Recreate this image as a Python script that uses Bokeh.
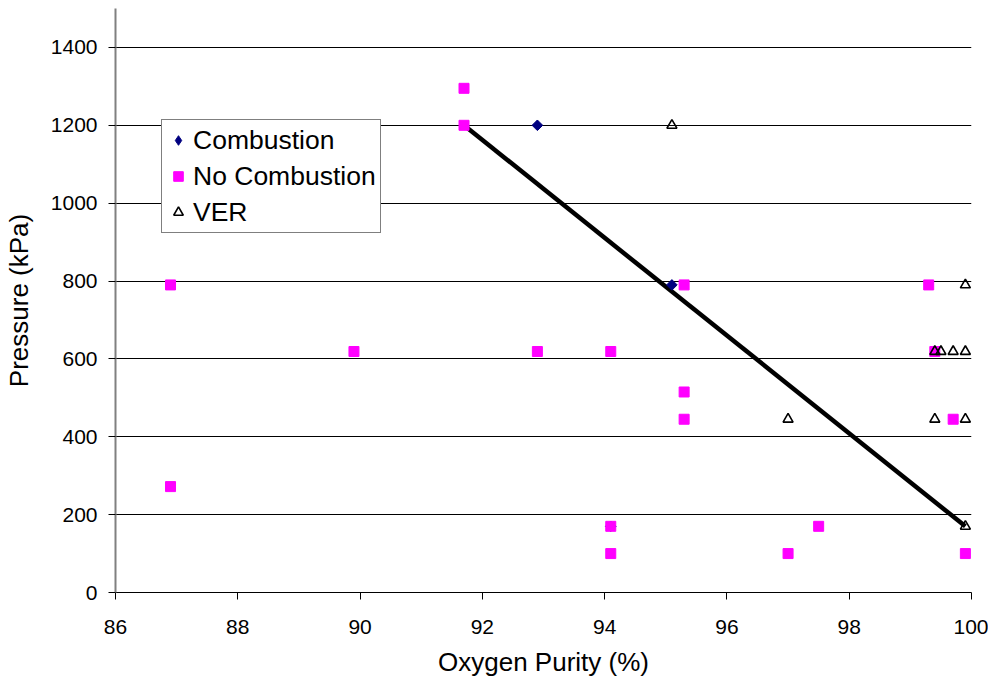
import math
from bokeh.plotting import figure
from bokeh.models import Range1d, FixedTicker, Legend, LegendItem
from bokeh.embed import file_html
from bokeh.resources import INLINE

# Data
comb_x = [92.9, 95.1, 94.1]
comb_y = [1200, 790, 170]

nocomb_x = [86.9, 86.9, 89.9, 89.9, 91.7, 91.7, 92.9, 94.1, 94.1, 94.1,
            95.3, 95.3, 95.3, 97.0, 97.5, 99.3, 99.4, 99.7, 99.9]
nocomb_y = [790, 272, 1200, 619, 1295, 1200, 619, 619, 170, 100,
            790, 515, 445, 100, 170, 790, 619, 445, 100]

ver_x = [95.1, 99.9, 99.4, 99.5, 99.7, 99.9, 97.0, 99.4, 99.9, 99.9]
ver_y = [1200, 790, 619, 619, 619, 619, 445, 445, 445, 170]

trend_x = [91.7, 99.9]
trend_y = [1200, 170]

x_ticks = [86, 88, 90, 92, 94, 96, 98, 100]
y_ticks = [0, 200, 400, 600, 800, 1000, 1200, 1400]

FONT = "Liberation Sans"

p = figure(frame_width=856, frame_height=584,
           x_range=Range1d(86, 100), y_range=Range1d(0, 1500),
           output_backend="svg", toolbar_location=None,
           min_border_left=107, min_border_right=17,
           min_border_top=8, min_border_bottom=82)
p.outline_line_color = None
p.background_fill_color = "white"
p.border_fill_color = "white"

# grid
p.xgrid.grid_line_color = None
p.ygrid.ticker = FixedTicker(ticks=y_ticks[1:])
p.ygrid.grid_line_color = "#000000"
p.ygrid.grid_line_width = 1

# axes
p.xaxis.ticker = FixedTicker(ticks=x_ticks)
p.yaxis.ticker = FixedTicker(ticks=y_ticks)
for ax in (p.xaxis, p.yaxis):
    ax.minor_tick_line_color = None
    ax.major_tick_in = 0
    ax.major_tick_out = 7
    ax.major_label_text_font = FONT
    ax.major_label_text_font_size = "21px"
    ax.major_label_text_color = "#000000"
    ax.axis_label_text_font = FONT
    ax.axis_label_text_font_size = "26px"
    ax.axis_label_text_font_style = "normal"
    ax.axis_label_text_color = "#000000"

p.xaxis.axis_label = "Oxygen Purity (%)"
p.yaxis.axis_label = "Pressure (kPa)"
p.xaxis.axis_line_color = "#000000"
p.xaxis.major_tick_line_color = "#000000"
p.yaxis.axis_line_color = "#808080"
p.yaxis.axis_line_width = 2
p.yaxis.major_tick_line_color = "#000000"
p.xaxis.major_label_standoff = 20
p.yaxis.major_label_standoff = 11
p.xaxis.axis_label_standoff = 10
p.yaxis.axis_label_standoff = 14

# trend line
p.line(trend_x, trend_y, line_color="black", line_width=4.5)

# diamond used for the legend symbol (hidden under the rotated squares)
r_comb_leg = p.scatter(comb_x, comb_y, marker="diamond", size=9,
                       fill_color="#000080", line_color="#000080")
r_comb = p.scatter(comb_x, comb_y, marker="square", size=7.5, angle=math.pi / 4,
                   fill_color="#000080", line_color="#000080")
r_noc = p.scatter(nocomb_x, nocomb_y, marker="square", size=10,
                  fill_color="#FF00FF", line_color="#FF00FF")
r_ver = p.scatter(ver_x, ver_y, marker="triangle", size=10,
                  fill_color=None, line_color="black", line_width=1.6)

legend = Legend(items=[
    LegendItem(label="Combustion", renderers=[r_comb_leg]),
    LegendItem(label="No Combustion", renderers=[r_noc]),
    LegendItem(label="VER", renderers=[r_ver]),
], location=(46, 359))
legend.label_text_font = FONT
legend.label_text_font_size = "26.5px"
legend.label_text_color = "#000000"
legend.label_height = 32
legend.glyph_height = 32
legend.glyph_width = 24
legend.label_standoff = 3
legend.spacing = 4
legend.padding = 4
legend.margin = 0
legend.border_line_color = "#000000"
legend.border_line_width = 1
legend.background_fill_color = "white"
legend.background_fill_alpha = 1
p.add_layout(legend, "center")

open("out.html", "w").write(file_html(p, INLINE))
